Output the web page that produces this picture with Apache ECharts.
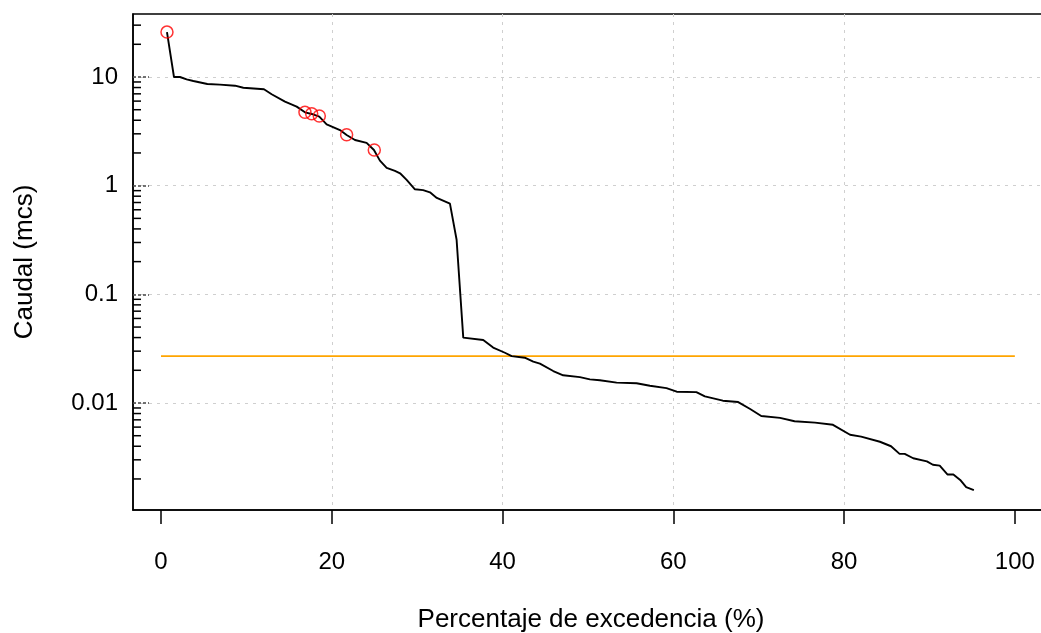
<!DOCTYPE html>
<html>
<head>
<meta charset="utf-8">
<script src="https://cdn.jsdelivr.net/npm/echarts@6/dist/echarts.min.js"></script>
<style>
  html, body { margin: 0; padding: 0; background: #fff; }
  #chart { width: 1041px; height: 633px; }
</style>
</head>
<body>
<div id="chart"></div>
<script>
// Flow duration curve: exceedance percentage vs. discharge
const curveX = [0.7, 1.52, 2.22, 3.0, 3.79, 5.43, 6.9, 8.67, 9.64, 12.06, 12.96, 14.52, 15.89, 16.86, 17.65, 18.54, 19.4, 20.96, 21.74, 22.72, 24.08, 24.94, 25.64, 26.43, 27.4, 28.0, 28.77, 29.74, 30.7, 31.5, 32.3, 33.84, 34.62, 35.4, 37.74, 38.9, 40.28, 41.07, 42.6, 43.6, 44.38, 45.94, 47.1, 49.06, 50.23, 51.4, 53.36, 55.7, 57.26, 59.2, 60.4, 62.7, 63.7, 65.8, 67.6, 69.0, 70.3, 72.5, 74.2, 76.6, 78.7, 80.7, 82.0, 84.2, 85.5, 86.5, 87.1, 88.1, 89.7, 90.4, 91.2, 92.1, 92.8, 93.6, 94.3, 95.2];
const curveY = [25.9, 10.0, 10.0, 9.5, 9.19, 8.63, 8.5, 8.32, 7.97, 7.71, 6.94, 5.93, 5.34, 4.73, 4.57, 4.32, 3.67, 3.25, 2.93, 2.63, 2.48, 2.13, 1.70, 1.46, 1.37, 1.30, 1.13, 0.926, 0.91, 0.868, 0.771, 0.683, 0.318, 0.040, 0.038, 0.0324, 0.029, 0.027, 0.0261, 0.024, 0.023, 0.0197, 0.018, 0.0173, 0.0165, 0.0162, 0.0154, 0.0152, 0.0144, 0.0137, 0.0127, 0.0126, 0.0115, 0.0105, 0.0102, 0.0088, 0.0076, 0.0073, 0.0068, 0.0066, 0.0063, 0.0051, 0.0049, 0.0044, 0.0040, 0.0034, 0.0034, 0.0031, 0.0029, 0.0027, 0.00265, 0.0022, 0.0022, 0.00196, 0.00168, 0.00158];

// Highlighted events (red open circles)
const pointsX = [0.7, 16.86, 17.65, 18.54, 21.74, 24.98];
const pointsY = [25.9, 4.73, 4.59, 4.38, 2.94, 2.13];

// Reference discharge level
const refLevel = 0.027;
const refX = [0, 100];

// Axis ticks
const xTicks = [0, 20, 40, 60, 80, 100];
const yMinorTicks = [0.002, 0.003, 0.004, 0.005, 0.006, 0.007, 0.008, 0.009,
  0.02, 0.03, 0.04, 0.05, 0.06, 0.07, 0.08, 0.09,
  0.2, 0.3, 0.4, 0.5, 0.6, 0.7, 0.8, 0.9,
  2, 3, 4, 5, 6, 7, 8, 9, 20, 30];

const X_MIN = -3.279, X_MAX = 104;
const Y_MIN = 0.001036, Y_MAX = 38.0;
const FONT = "'Liberation Sans', Arial, sans-serif";

const chart = echarts.init(document.getElementById('chart'), null, { renderer: 'canvas' });

chart.setOption({
  animation: false,
  backgroundColor: '#fff',
  grid: {
    left: 133, top: 14, width: 916, height: 496,
    containLabel: false, outerBoundsMode: 'none',
    show: true, borderColor: '#000', borderWidth: 1.5, backgroundColor: 'transparent'
  },
  xAxis: {
    type: 'value', min: X_MIN, max: X_MAX,
    name: 'Percentaje de excedencia (%)',
    nameLocation: 'middle', nameGap: 97,
    nameTextStyle: { fontFamily: FONT, fontSize: 26, color: '#000' },
    axisLine: { show: true, onZero: false, lineStyle: { color: '#000', width: 1.5 } },
    axisTick: { show: true, inside: false, length: 14, customValues: xTicks, lineStyle: { color: '#000', width: 1.5 } },
    axisLabel: { show: true, margin: 40, customValues: xTicks, fontFamily: FONT, fontSize: 24, color: '#000' },
    splitLine: { show: true, showMinLine: false, showMaxLine: false, lineStyle: { color: '#cfcfcf', width: 1, type: [3, 5] } }
  },
  yAxis: {
    type: 'log', logBase: 10, min: Y_MIN, max: Y_MAX,
    name: 'Caudal (mcs)',
    nameLocation: 'middle', nameGap: 95,
    nameTextStyle: { fontFamily: FONT, fontSize: 26, color: '#000' },
    axisLine: { show: true, onZero: false, lineStyle: { color: '#000', width: 1.5 } },
    axisTick: { show: true, inside: true, length: 16, lineStyle: { color: '#444', width: 1.5, type: [3, 2] } },
    axisLabel: {
      show: true, margin: 15, fontFamily: FONT, fontSize: 24, color: '#000',
      showMinLabel: false, showMaxLabel: false,
      formatter: function (v) {
        const e = Math.round(Math.log10(v));
        if (Math.abs(Math.log10(v) - e) > 1e-6) return '';
        return e >= 0 ? String(Math.pow(10, e)) : (Math.pow(10, e)).toFixed(-e);
      }
    },
    splitLine: { show: true, showMinLine: false, showMaxLine: false, lineStyle: { color: '#cfcfcf', width: 1, type: [3, 5] } }
  },
  series: [
    {
      name: 'minor',
      type: 'custom',
      silent: true,
      clip: false,
      data: yMinorTicks.map(v => [X_MIN, v]),
      renderItem: function (params, api) {
        const p = api.coord([api.value(0), api.value(1)]);
        return {
          type: 'line',
          shape: { x1: p[0], y1: p[1], x2: p[0] + 8, y2: p[1] },
          style: { stroke: '#000', lineWidth: 1.5 }
        };
      },
      z: 5
    },
    {
      name: 'ref',
      type: 'line',
      silent: true,
      symbol: 'none',
      data: refX.map(x => [x, refLevel]),
      lineStyle: { color: '#FFA500', width: 1.6 },
      z: 2
    },
    {
      name: 'curve',
      type: 'line',
      silent: true,
      symbol: 'none',
      smooth: false,
      data: curveX.map((x, i) => [x, curveY[i]]),
      lineStyle: { color: '#000', width: 1.9 },
      z: 3
    },
    {
      name: 'events',
      type: 'scatter',
      silent: true,
      symbol: 'circle',
      symbolSize: 12,
      data: pointsX.map((x, i) => [x, pointsY[i]]),
      itemStyle: { color: 'rgba(0,0,0,0)', borderColor: '#ff0000', borderWidth: 1.5 },
      z: 4
    }
  ]
});
</script>
</body>
</html>
